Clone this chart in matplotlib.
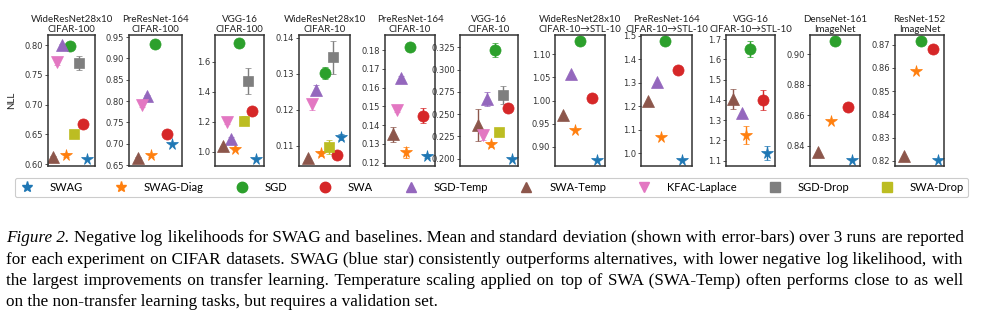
import numpy as np
import matplotlib
matplotlib.use("Agg")
import matplotlib.pyplot as plt
from matplotlib.ticker import MultipleLocator
from matplotlib.lines import Line2D
from matplotlib import font_manager, ft2font
from matplotlib.font_manager import FontProperties

nan = np.nan

# ---------------- data ----------------
titles = ["WideResNet28x10\nCIFAR-100", "PreResNet-164\nCIFAR-100", "VGG-16\nCIFAR-100",
          "WideResNet28x10\nCIFAR-10", "PreResNet-164\nCIFAR-10", "VGG-16\nCIFAR-10",
          "WideResNet28x10\nCIFAR-10\u2192STL-10", "PreResNet-164\nCIFAR-10\u2192STL-10",
          "VGG-16\nCIFAR-10\u2192STL-10", "DenseNet-161\nImageNet", "ResNet-152\nImageNet"]

methods = ["SWAG", "SWAG-Diag", "SGD", "SWA", "SGD-Temp", "SWA-Temp",
           "KFAC-Laplace", "SGD-Drop", "SWA-Drop"]

swag          = [0.608, 0.699, 0.951, 0.1124, 0.1237, 0.200, 0.871, 0.971, 1.137, 0.8305, 0.8204]
swag_err      = [0, 0, 0, 0.0008, 0.001, 0, 0, 0, 0.035, 0, 0]
swag_diag     = [0.615, 0.673, 1.020, 0.1078, 0.1255, 0.216, 0.935, 1.071, 1.226, 0.8564, 0.8587]
swag_diag_err = [0.003, 0.003, 0.01, 0.0008, 0.003, 0.003, 0, 0, 0.045, 0, 0]
sgd           = [0.799, 0.934, 1.723, 0.1303, 0.1817, 0.322, 1.130, 1.478, 1.650, 0.9085, 0.8717]
sgd_err       = [0.003, 0.002, 0.01, 0.0017, 0.001, 0.008, 0, 0, 0.04, 0, 0]
swa           = [0.668, 0.722, 1.275, 0.1075, 0.145, 0.2566, 1.005, 1.356, 1.400, 0.8655, 0.8681]
swa_err       = [0.004, 0.004, 0.01, 0.0008, 0.004, 0.003, 0, 0, 0.05, 0, 0]
sgd_temp      = [0.800, 0.812, 1.087, 0.1255, 0.1652, 0.267, 1.057, 1.305, 1.334, nan, nan]
sgd_temp_err  = [0.002, 0.003, 0.01, 0.0015, 0.001, 0.008, 0, 0, 0, 0, 0]
swa_temp      = [0.612, 0.666, 1.036, 0.1064, 0.1350, 0.2375, 0.969, 1.224, 1.405, 0.8357, 0.8223]
swa_temp_err  = [0.002, 0.002, 0.005, 0, 0.004, 0.018, 0, 0, 0.05, 0, 0]
kfac          = [0.772, 0.790, 1.197, 0.1215, 0.1482, 0.2265, nan, nan, nan, nan, nan]
kfac_err      = [0.005, 0.004, 0.01, 0.0015, 0.001, 0.006, 0, 0, 0, 0, 0]
sgd_drop      = [0.770, nan, 1.475, 0.1346, nan, 0.2715, nan, nan, nan, nan, nan]
sgd_drop_err  = [0.011, 0, 0.087, 0.0046, 0, 0.01, 0, 0, 0, 0, 0]
swa_drop      = [0.650, nan, 1.208, 0.1096, nan, 0.2303, nan, nan, nan, nan, nan]
swa_drop_err  = [0.002, 0, 0.03, 0.002, 0, 0.002, 0, 0, 0, 0, 0]

values = [swag, swag_diag, sgd, swa, sgd_temp, swa_temp, kfac, sgd_drop, swa_drop]
errors = [swag_err, swag_diag_err, sgd_err, swa_err, sgd_temp_err, swa_temp_err,
          kfac_err, sgd_drop_err, swa_drop_err]

caption_italic = "Figure 2."
caption_lines = [
    "Negative log likelihoods for SWAG and baselines. Mean and standard deviation (shown with error-bars) over 3 runs are reported",
    "for each experiment on CIFAR datasets. SWAG (blue star) consistently outperforms alternatives, with lower negative log likelihood, with",
    "the largest improvements on transfer learning. Temperature scaling applied on top of SWA (SWA-Temp) often performs close to as well",
    "on the non-transfer learning tasks, but requires a validation set.",
]

# ---------------- styles / layout ----------------
colors = ["C0", "C1", "C2", "C3", "C4", "C5", "C6", "C7", "C8"]
markers = ["*", "*", "o", "o", "^", "^", "v", "s", "s"]
msizes = [8.5, 8.5, 8, 8, 8, 8, 8, 7, 7]
xpos = [8, 3, 4, 7, 2, 0, 1, 6, 5]

ylims = [(0.597, 0.817), (0.648, 0.955), (0.906, 1.779), (0.1043, 0.1408),
         (0.1182, 0.188), (0.1918, 0.3388), (0.858, 1.142), (0.9455, 1.503),
         (1.074, 1.72), (0.8266, 0.9126), (0.8178, 0.8742)]
ysteps = [0.05, 0.05, 0.2, 0.01, 0.01, 0.025, 0.05, 0.1, 0.1, 0.02, 0.01]
xlims = [(-1.18, 9.88), (-2.2, 10.5), (-1.85, 9.92), (-2.28, 10.2), (-1.88, 9.88),
         (-4.4, 9.5), (-1.8, 9.95), (-1.75, 10.47), (-1.75, 9.99), (-2.03, 9.96), (-2.0, 9.5)]
box_l = [48, 129, 215, 299, 385, 460, 555, 641, 726, 810, 895]
box_r = [95, 182, 264, 350, 435, 518, 605, 692, 775, 860, 944]
box_top, box_bot = 35, 166

W, H = 985, 323
fig = plt.figure(figsize=(W / 100, H / 100), dpi=100)
sans = ["Lato", "DejaVu Sans"]

for p in range(len(titles)):
    ax = fig.add_axes([box_l[p] / W, (H - box_bot) / H,
                       (box_r[p] - box_l[p]) / W, (box_bot - box_top) / H])
    for m in range(len(methods)):
        v = values[m][p]
        if np.isnan(v):
            continue
        e = errors[m][p]
        ax.errorbar([xpos[m]], [v], yerr=[e] if e > 0 else None, fmt=markers[m],
                    color=colors[m], ms=msizes[m], mec=colors[m], mew=0.5,
                    elinewidth=1.0, capsize=2, capthick=1.0)
    ax.set_xlim(*xlims[p])
    ax.set_ylim(*ylims[p])
    ax.yaxis.set_major_locator(MultipleLocator(ysteps[p]))
    ax.set_xticks([])
    ax.tick_params(axis="y", labelsize=6, length=2, width=0.6, pad=1.5,
                   colors="#333333")
    for sp in ax.spines.values():
        sp.set_color("#333333")
        sp.set_linewidth(1.1)
    ax.set_title(titles[p], fontsize=7, pad=2.5, family=sans, linespacing=1.05,
                 color="#222222")
    if p == 0:
        ax.set_ylabel("NLL", fontsize=7, family=sans, color="#222222")
        ax.yaxis.set_label_coords((16 - box_l[0]) / (box_r[0] - box_l[0]), 0.5)

# ---------------- legend ----------------
handles = [Line2D([], [], linestyle="none", marker=markers[m], color=colors[m],
                  ms=msizes[m] - 0.5, mec=colors[m]) for m in range(len(methods))]
leg = fig.legend(handles, methods, loc="center", ncol=9, mode="expand",
                 bbox_to_anchor=(15 / W, (H - 198) / H, 953 / W, 21 / H),
                 prop={"family": sans, "size": 8}, handlelength=1.5,
                 handletextpad=1.3, borderaxespad=0, borderpad=0.35,
                 frameon=True, fancybox=True, edgecolor="#cccccc",
                 framealpha=1.0)
leg.get_frame().set_linewidth(0.8)

# ---------------- caption (justified with hair spaces) ----------------
baselines = [242, 263.5, 285, 306]
x0, x1 = 6, 963
renderer = fig.canvas.get_renderer()
serif = "Liberation Serif"

try:
    fpath = font_manager.findfont(FontProperties(family=serif))
    ftf = ft2font.FT2Font(fpath)
    pad_char = None
    for cp in (0x200A, 0x2009, 0x2006):
        if ftf.get_char_index(cp) != 0:
            pad_char = chr(cp)
            break
except Exception:
    pad_char = None


def measure(s, fs, style="normal"):
    t = fig.text(0, 0, s, fontsize=fs, family=serif, style=style)
    w = t.get_window_extent(renderer).width
    t.remove()
    return w


fs0 = 10.0
full1 = caption_italic + " " + caption_lines[0]
w1 = measure(full1, fs0)
fs = fs0 * (x1 - x0 - 6) / w1

space_w = measure("x x", fs) - measure("xx", fs)
it_w = measure(caption_italic, fs, "italic")

fig.text(x0 / W, (H - baselines[0]) / H, caption_italic, fontsize=fs, family=serif,
         style="italic", va="baseline", ha="left")


def justify(line, width):
    if pad_char is None:
        return line
    pad_w = measure("x" + pad_char + "x", fs) - measure("xx", fs)
    if pad_w <= 0:
        return line
    nat = measure(line, fs)
    words = line.split(" ")
    gaps = len(words) - 1
    total = int(round((width - nat) / pad_w))
    if total <= 0 or gaps <= 0:
        return line
    out = words[0]
    acc = 0.0
    used = 0
    for i in range(1, len(words)):
        acc += total / gaps
        k = int(round(acc)) - used
        used += k
        out += " " + pad_char * k + words[i]
    return out


for li, line in enumerate(caption_lines):
    if li == 0:
        start = x0 + it_w + space_w
    else:
        start = x0
    s = justify(line, x1 - start) if li < len(caption_lines) - 1 else line
    fig.text(start / W, (H - baselines[li]) / H, s, fontsize=fs, family=serif,
             va="baseline", ha="left")

fig.savefig("out.png", dpi=100)
